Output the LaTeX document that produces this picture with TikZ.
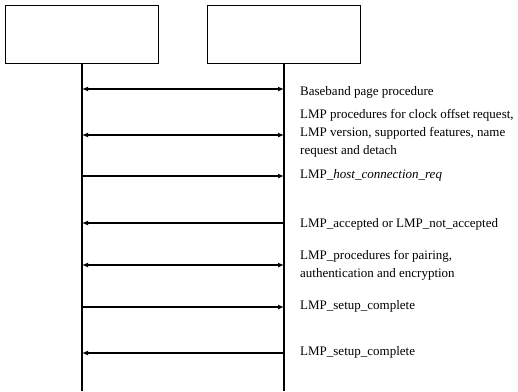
\documentclass[tikz,border=0pt]{standalone}
\usepackage{fontspec}
\setmainfont{Liberation Serif}
\usetikzlibrary{arrows.meta}
\begin{document}
\begin{tikzpicture}[x=1pt,y=-1pt,
  entity/.style={draw, line width=0.8pt, minimum width=153pt, minimum height=58pt, inner sep=0pt},
  life/.style={line width=1.4pt},
  msgboth/.style={line width=1.4pt, {Latex[length=6pt,width=5pt]}-{Latex[length=6pt,width=5pt]}},
  msgright/.style={line width=1.4pt, -{Latex[length=6pt,width=5pt]}},
  msgleft/.style={line width=1.4pt, {Latex[length=6pt,width=5pt]}-},
  lbl/.style={anchor=west, align=left, inner sep=0pt, font=\fontsize{13}{18}\selectfont}]
\useasboundingbox (0,0) rectangle (518,391);
\node[entity] (A) at (82,34) {};
\node[entity] (B) at (284,34) {};
\coordinate (Aend) at (82,391);
\coordinate (Bend) at (284,391);
\draw[life] (A.south) -- (Aend);
\draw[life] (B.south) -- (Bend);
\foreach \yy [count=\i] in {89,135,176,223,265,307,353} {
  \coordinate (a\i) at (82,\yy);
  \coordinate (b\i) at (284,\yy);
}
\draw[msgboth] (a1) -- (b1);
\draw[msgboth] (a2) -- (b2);
\draw[msgright] (a3) -- (b3);
\draw[msgleft] (a4) -- (b4);
\draw[msgboth] (a5) -- (b5);
\draw[msgright] (a6) -- (b6);
\draw[msgleft] (a7) -- (b7);
\node[lbl] (t1) at (300,92) {Baseband page procedure};
\node[lbl] (t2) at (300,133) {LMP procedures for clock offset request,\\LMP version, supported features, name\\request and detach};
\node[lbl] (t3) at (300,175) {LMP\_\textit{host\_connection\_req}};
\node[lbl] (t4) at (300,224) {LMP\_accepted or LMP\_not\_accepted};
\node[lbl] (t5) at (300,265) {LMP\_procedures for pairing,\\authentication and encryption};
\node[lbl] (t6) at (300,306) {LMP\_setup\_complete};
\node[lbl] (t7) at (300,352) {LMP\_setup\_complete};
\end{tikzpicture}
\end{document}
